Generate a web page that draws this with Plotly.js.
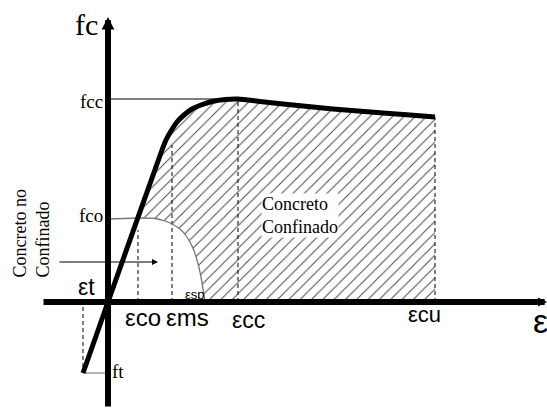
<!DOCTYPE html>
<html><head><meta charset="utf-8">
<script src="https://cdn.plot.ly/plotly-3.0.1.min.js"></script>
<style>html,body{margin:0;padding:0;background:#fff}#chart{width:547px;height:408px}</style>
</head><body><div id="chart"></div>
<script>
// Schematic stress-strain values (arbitrary units)
const confinedStrain = [-25, 0, 54, 58, 63, 69, 76, 84, 93, 104, 117, 130, 152, 175, 200, 225, 250, 275, 302, 327];
const confinedStress = [-71, 0, 152, 162, 171, 180, 187, 193, 197, 200.5, 202.5, 203, 200.5, 198, 195.5, 193, 191, 189, 187, 185];
const unconfinedStrain = [0, 32, 47, 57, 64, 72, 79, 84, 89, 93, 97];
const unconfinedStress = [83, 84, 83.5, 81, 78, 73, 65, 56, 42, 25, 0];
const strainMarks = ['εt', 'εco', 'εms', 'εcc', 'εcu'];
const strainValues = [-25, 30, 64, 130, 327];
const dashFrom = [-5, 0, 0, 0, 0];
const dashTo = [-68, 72, 157, 203, 185];
const stressMarks = ['fcc', 'fco', 'ft'];
const stressValues = [203, 83, -71];
const epsSp = 97;

const SERIF = 'Liberation Serif';
const SANS = 'Liberation Sans';

// hatched confined region
const hx = [29], hy = [83];
for (let i = 2; i < confinedStrain.length; i++) { hx.push(confinedStrain[i]); hy.push(confinedStress[i]); }
hx.push(confinedStrain[confinedStrain.length - 1]); hy.push(0);
hx.push(epsSp); hy.push(0);
for (let i = unconfinedStrain.length - 2; i >= 1; i--) { hx.push(unconfinedStrain[i]); hy.push(unconfinedStress[i]); }

const traces = [];
traces.push({x: hx, y: hy, mode: 'lines', fill: 'toself', line: {width: 0, color: 'rgba(0,0,0,0)'},
  fillcolor: 'rgba(255,255,255,0)',
  fillpattern: {shape: '/', size: 8, solidity: 0.12, fgcolor: '#444', bgcolor: 'rgba(255,255,255,0)'},
  hoverinfo: 'skip', showlegend: false});

// dashed verticals
for (let i = 0; i < strainValues.length; i++) {
  traces.push({x: [strainValues[i], strainValues[i]], y: [dashFrom[i], dashTo[i]], mode: 'lines',
    line: {color: '#000', width: 1, dash: '4px,3px'}, showlegend: false, hoverinfo: 'skip'});
}
// horizontal reference lines
traces.push({x: [0, confinedStrain[11]], y: [stressValues[0], stressValues[0]], mode: 'lines',
  line: {color: '#000', width: 1}, showlegend: false, hoverinfo: 'skip'});
traces.push({x: [confinedStrain[0], 0], y: [stressValues[2], stressValues[2]], mode: 'lines',
  line: {color: '#666', width: 1}, showlegend: false, hoverinfo: 'skip'});
// unconfined curve
traces.push({x: unconfinedStrain, y: unconfinedStress, mode: 'lines', line: {color: '#777', width: 1.3, shape: 'spline', smoothing: 0.6},
  showlegend: false, hoverinfo: 'skip'});
// confined curve
traces.push({x: confinedStrain, y: confinedStress, mode: 'lines', line: {color: '#000', width: 5, shape: 'spline', smoothing: 0.5},
  showlegend: false, hoverinfo: 'skip'});

const ann = [];
function txt(t, x, y, size, font, opts) {
  ann.push(Object.assign({text: t, x: x, y: y, xref: 'x', yref: 'y', showarrow: false,
    font: {size: size, family: font, color: '#000'}}, opts || {}));
}
// axes arrows
ann.push({x: 0, y: 285, ax: 0, ay: -106, xref: 'x', yref: 'y', axref: 'x', ayref: 'y', text: '',
  showarrow: true, arrowhead: 2, arrowsize: 0.42, arrowwidth: 6, arrowcolor: '#000'});
ann.push({x: 439, y: 0, ax: -66, ay: 0, xref: 'x', yref: 'y', axref: 'x', ayref: 'y', text: '',
  showarrow: true, arrowhead: 2, arrowsize: 0.3, arrowwidth: 6, arrowcolor: '#000'});
// arrow in unconfined zone
ann.push({x: 50, y: 40, ax: -50, ay: 40, xref: 'x', yref: 'y', axref: 'x', ayref: 'y', text: '',
  showarrow: true, arrowhead: 2, arrowsize: 1, arrowwidth: 1.2, arrowcolor: '#000'});

txt('fc', -22, 278, 30, SERIF);
txt(stressMarks[0], -3, 201, 19, SERIF, {xanchor: 'right'});
txt(stressMarks[1], -3, 87, 19, SERIF, {xanchor: 'right'});
txt(stressMarks[2], 2, -69, 19, SERIF, {xanchor: 'left'});

txt(strainMarks[0], -22, 15, 23, SANS);
txt(strainMarks[1], 35, -15, 24, SANS);
txt(strainMarks[2], 79, -15, 24, SANS);
txt(strainMarks[3], 140.5, -18, 23, SANS);
txt(strainMarks[4], 316.5, -12, 22, SANS);
txt('ε', 432, -19, 34, SANS);
txt('εsp', 87, 8, 13, SANS);

txt('Concreto no<br>Confinado', -77, 68.5, 18, SERIF, {textangle: -90, align: 'left'});
txt('Concreto<br>Confinado', 153, 87, 18, SERIF, {xanchor: 'left', align: 'left', bgcolor: '#fff', borderpad: 0});

const layout = {
  width: 547, height: 408, margin: {l: 0, r: 0, t: 0, b: 0},
  paper_bgcolor: '#fff', plot_bgcolor: '#fff',
  xaxis: {range: [-108, 439], visible: false, fixedrange: true},
  yaxis: {range: [-106, 302], visible: false, fixedrange: true},
  annotations: ann, showlegend: false
};
Plotly.newPlot('chart', traces, layout, {staticPlot: true, displayModeBar: false});
</script></body></html>
